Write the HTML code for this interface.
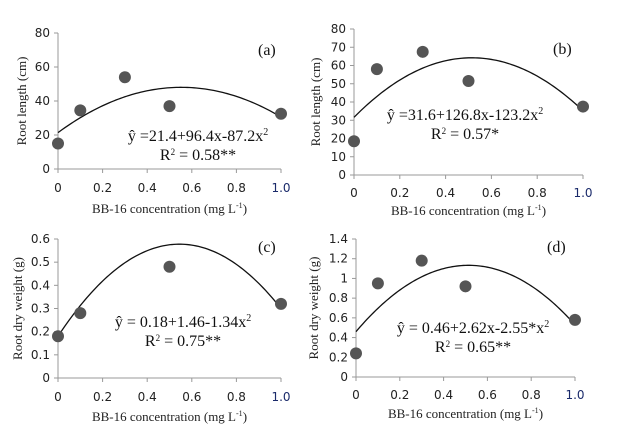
<!DOCTYPE html>
<html><head><meta charset="utf-8"><style>
html,body{margin:0;padding:0;background:#fff;}
svg{display:block;}
.tk{font-family:"DejaVu Sans","Liberation Sans",sans-serif;font-size:12px;fill:#222;}
.tt{font-family:"Liberation Serif",serif;font-size:13px;fill:#222;}
.eq{font-family:"Liberation Serif",serif;font-size:16px;fill:#111;}
</style></head><body>
<svg id="fig" width="622" height="444" xmlns="http://www.w3.org/2000/svg"></svg>
<script>
const xTicks = [0, 0.2, 0.4, 0.6, 0.8, 1.0];
const xLabels = ["0", "0.2", "0.4", "0.6", "0.8", "1.0"];
const aX = [0, 0.1, 0.3, 0.5, 1.0];
const aY = [15, 34.5, 54, 37, 32.5];
const aCoef = [21.4, 96.4, -87.2];
const aTicks = [0, 20, 40, 60, 80];
const bX = [0, 0.1, 0.3, 0.5, 1.0];
const bY = [18.5, 58, 67.5, 51.5, 37.5];
const bCoef = [31.6, 126.8, -123.2];
const bTicks = [0, 10, 20, 30, 40, 50, 60, 70, 80];
const cX = [0, 0.1, 0.5, 1.0];
const cY = [0.18, 0.28, 0.48, 0.32];
const cCoef = [0.18, 1.46, -1.34];
const cTicks = [0, 0.1, 0.2, 0.3, 0.4, 0.5, 0.6];
const dX = [0, 0.1, 0.3, 0.5, 1.0];
const dY = [0.24, 0.95, 1.18, 0.92, 0.58];
const dCoef = [0.46, 2.62, -2.55];
const dTicks = [0, 0.2, 0.4, 0.6, 0.8, 1, 1.2, 1.4];
const dTickLabels = ["0", "0.2", "0.4", "0.6", "0.8", "1", "1.2", "1.4"];

const NS = "http://www.w3.org/2000/svg";
const svg = document.getElementById('fig');
function mk(tag, attrs, parent, text) {
  const e = document.createElementNS(NS, tag);
  for (const k in attrs) e.setAttribute(k, attrs[k]);
  if (text !== undefined) e.textContent = text;
  (parent || svg).appendChild(e);
  return e;
}

function panel(o) {
  const g = mk('g', {});
  
  
  const sx = v => o.x0 + (o.x1 - o.x0) * v;
  const yMax = o.yTicks[o.yTicks.length - 1];
  const sy = v => o.y0 - (o.y0 - o.y1) * v / yMax;
  const ya = mk('line', {x1: o.x0, y1: o.y1, x2: o.x0, y2: o.y0, stroke: '#999', 'stroke-width': 1}, g);
  
  
  const xa = mk('line', {x1: o.x0, y1: o.y0, x2: o.x1, y2: o.y0, stroke: '#999', 'stroke-width': 1}, g);
  
  
  o.yTicks.forEach((t, i) => {
    mk('line', {x1: o.x0 - 4, y1: sy(t), x2: o.x0, y2: sy(t), stroke: '#999'}, g);
    const lb = mk('text', {x: o.x0 - 8, y: sy(t) + 4, 'text-anchor': 'end', class: 'tk'}, g, o.yLabels ? o.yLabels[i] : String(t));
    
    
  });
  xTicks.forEach((t, i) => {
    mk('line', {x1: sx(t), y1: o.y0, x2: sx(t), y2: o.y0 + 4, stroke: '#999'}, g);
    const lb = mk('text', {x: sx(t), y: o.xl, 'text-anchor': 'middle', class: 'tk'}, g, xLabels[i]);
    if (i === 5) lb.setAttribute('style', 'fill:#1a2a6a');
    
    
  });
  let d = '';
  for (let i = 0; i <= 100; i++) {
    const x = i / 100;
    const y = o.coef[0] + o.coef[1] * x + o.coef[2] * x * x;
    d += (i ? 'L' : 'M') + sx(x).toFixed(2) + ',' + sy(y).toFixed(2);
  }
  const c = mk('path', {d: d, fill: 'none', stroke: '#111', 'stroke-width': 1.3}, g);
  
  
  o.xs.forEach((x, i) => {
    const p = mk('circle', {cx: sx(x), cy: sy(o.ys[i]), r: 6, fill: '#555'}, g);
    
    
  });
  const xt = mk('text', {x: (o.x0 + o.x1) / 2, y: o.xt, 'text-anchor': 'middle', class: 'tt'}, g);
  xt.innerHTML = 'BB-16 concentration (mg L<tspan dy="-5" font-size="8">-1</tspan><tspan dy="5">)</tspan>';
  
  
  const cy = (o.y0 + o.y1) / 2;
  const yt = mk('text', {x: o.ytx, y: cy, 'text-anchor': 'middle', class: 'tt', transform: 'rotate(-90 ' + o.ytx + ' ' + cy + ')'}, g, o.ytitle);
  
  
  const pl = mk('text', {x: o.lx, y: o.ly, class: 'eq'}, g, '(' + o.id + ')');
  
  
  const e1 = mk('text', {x: o.ex, y: o.ey, 'text-anchor': 'middle', class: 'eq'}, g);
  e1.innerHTML = o.eq + '<tspan dy="-6" font-size="10">2</tspan>';
  
  
  const e2 = mk('text', {x: o.ex, y: o.ey + 19, 'text-anchor': 'middle', class: 'eq'}, g);
  e2.innerHTML = 'R<tspan dy="-5" font-size="9">2</tspan><tspan dy="5"> = ' + o.r2 + '</tspan>';
  
  
}

panel({id: 'a', x0: 58, x1: 281, y0: 169, y1: 33, yTicks: aTicks, xs: aX, ys: aY, coef: aCoef,
  xl: 192, xt: 213, ytx: 26, ytitle: 'Root length (cm)', lx: 258, ly: 55, ex: 198, ey: 141,
  eq: 'ŷ =21.4+96.4x-87.2x', r2: '0.58**'});
panel({id: 'b', x0: 354, x1: 583, y0: 175, y1: 29, yTicks: bTicks, xs: bX, ys: bY, coef: bCoef,
  xl: 197, xt: 215, ytx: 320, ytitle: 'Root length (cm)', lx: 553, ly: 54, ex: 465, ey: 120,
  eq: 'ŷ =31.6+126.8x-123.2x', r2: '0.57*'});
panel({id: 'c', x0: 58, x1: 281, y0: 378, y1: 239, yTicks: cTicks, xs: cX, ys: cY, coef: cCoef,
  xl: 401, xt: 421, ytx: 22, ytitle: 'Root dry weight (g)', lx: 258, ly: 252, ex: 183, ey: 327,
  eq: 'ŷ = 0.18+1.46-1.34x', r2: '0.75**'});
panel({id: 'd', x0: 356, x1: 575, y0: 377, y1: 239, yTicks: dTicks, yLabels: dTickLabels, xs: dX, ys: dY, coef: dCoef,
  xl: 399, xt: 418, ytx: 318, ytitle: 'Root dry weight (g)', lx: 547, ly: 252, ex: 473, ey: 333,
  eq: 'ŷ = 0.46+2.62x-2.55*x', r2: '0.65**'});
</script>
</body></html>
